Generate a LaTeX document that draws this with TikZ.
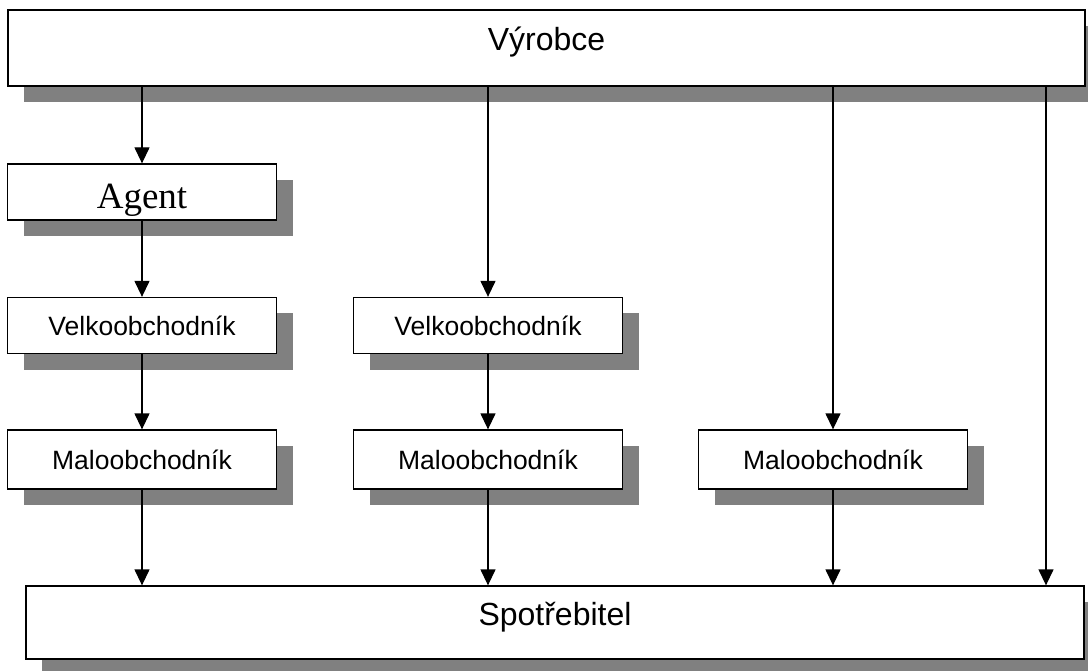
\documentclass[tikz,border=0pt]{standalone}
\usepackage{fontspec}
\setmainfont{Liberation Sans}
\newfontfamily\agentfont{Liberation Serif}
\usetikzlibrary{shadows,arrows.meta}

\begin{document}
\begin{tikzpicture}[x=1pt, y=1pt, node distance=133pt]
    \definecolor{shade-color}{HTML}{808080}
    \tikzstyle{every node}=[font=\fontsize{26.5}{30}\selectfont]
    \tikzstyle{level} = [rectangle, draw, line width=1.3pt, fill=white, minimum width=269pt, minimum height=56pt, inner sep=0pt, drop shadow={shadow xshift=16pt, shadow yshift=-16pt, opacity=1, fill=shade-color}]
    \tikzstyle{wide} = [level, font=\fontsize{32}{36}\selectfont, text depth=19pt]
    \tikzstyle{arrow} = [line width=1.3pt, -{Triangle[width=15pt, length=16pt]}]
    \useasboundingbox (0,0) rectangle (1088,-671);
        \node (vyrobce) [wide, minimum width=1077pt, minimum height=76pt] at (546.5,-48) {Výrobce};
        \node (agent) [level, font=\agentfont\fontsize{37}{40}\selectfont, text height=33pt, text depth=0pt] at (142,-192) {Agent};
        \node (velk1) [level, below of=agent, yshift=-0.5pt] {Velkoobchodník};
        \node (malo1) [level, minimum height=59pt, below of=velk1, yshift=-1pt] {Maloobchodník};
        \node (velk2) [level, right of=velk1, xshift=213pt] {Velkoobchodník};
        \node (malo2) [level, minimum height=59pt, right of=malo1, xshift=213pt] {Maloobchodník};
        \node (malo3) [level, minimum height=59pt, right of=malo2, xshift=212pt] {Maloobchodník};
        \node (spot) [wide, minimum width=1058pt, minimum height=73pt, text depth=18pt] at (555,-622.5) {Spotřebitel};
        % channels
        \draw[arrow] (vyrobce.south -| agent.north) -- (agent.north);
        \draw[arrow] (agent) -- (velk1);
        \draw[arrow] (velk1) -- (malo1);
        \draw[arrow] (malo1) -- (malo1 |- spot.north);
        \draw[arrow] (vyrobce.south -| velk2.north) -- (velk2);
        \draw[arrow] (velk2) -- (malo2);
        \draw[arrow] (malo2) -- (malo2 |- spot.north);
        \draw[arrow] (vyrobce.south -| malo3.north) -- (malo3);
        \draw[arrow] (malo3) -- (malo3 |- spot.north);
        \draw[arrow] ([xshift=499.5pt]vyrobce.south) -- ([xshift=491pt]spot.north);
\end{tikzpicture}
\end{document}
